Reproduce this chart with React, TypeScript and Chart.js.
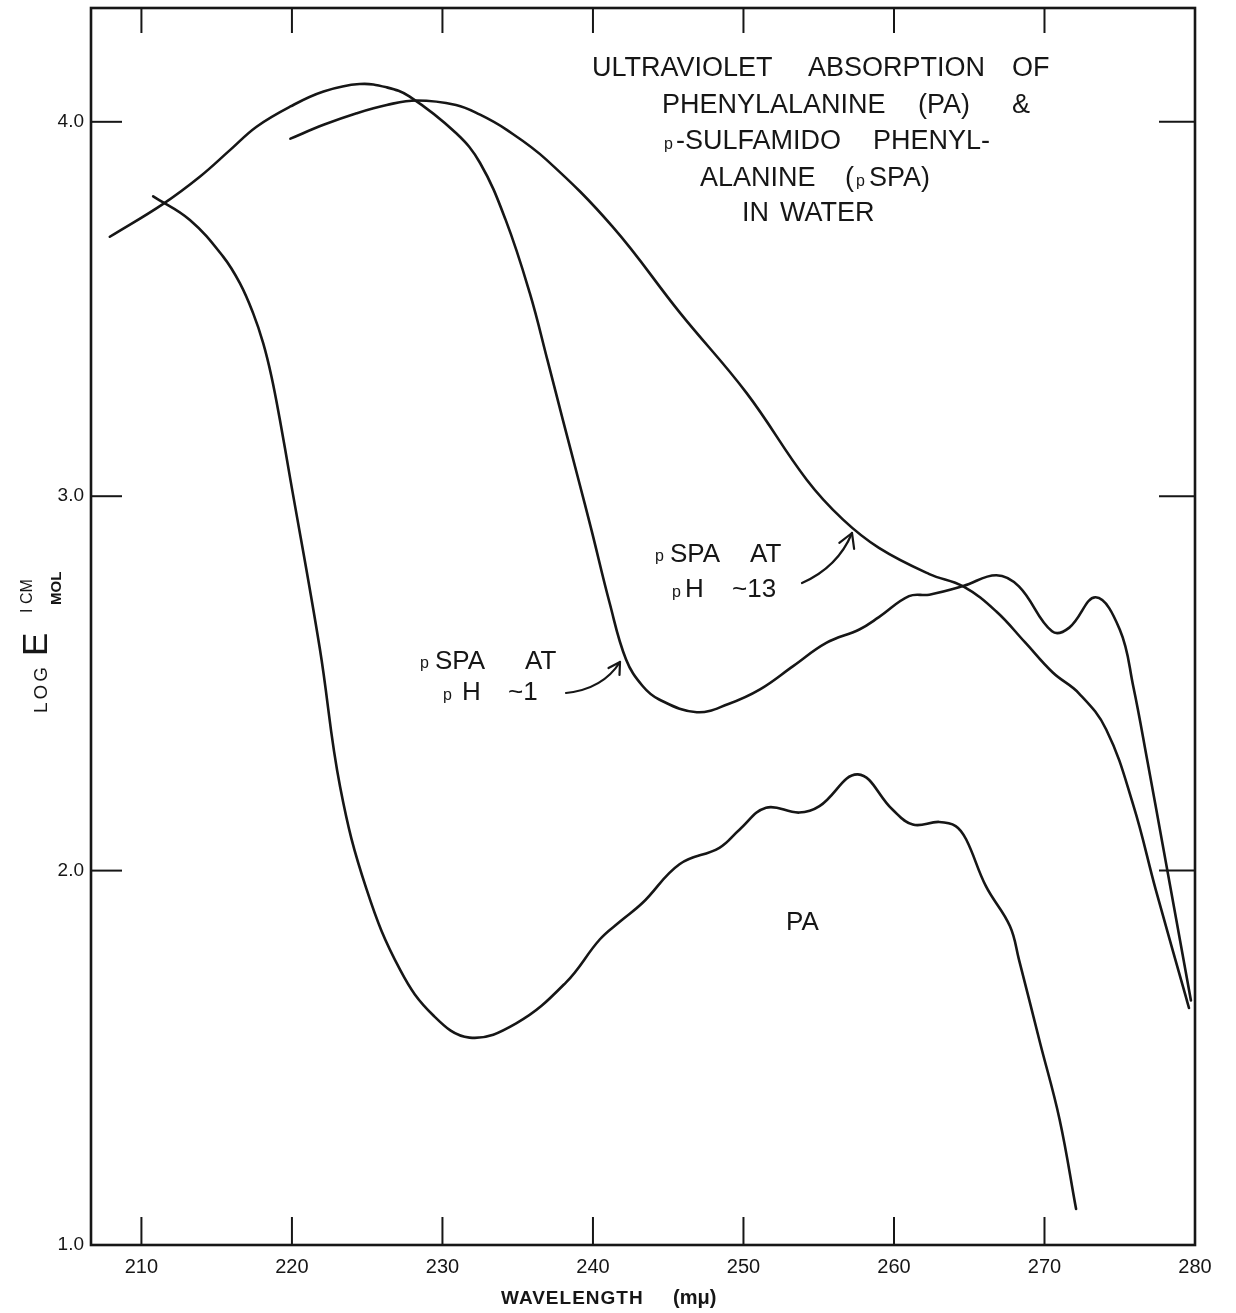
import React, { useEffect, useRef } from 'react';
import { Chart, registerables } from 'chart.js';

Chart.register(...registerables);

// ---- axis ticks ----
const xTickValues = [210, 220, 230, 240, 250, 260, 270, 280];
const yTickValues = [1.0, 2.0, 3.0, 4.0];

// ---- pSPA at pH ~1 ----
const pspaPh1Wavelength = [
  207.9, 211.45, 213.9, 215.9, 217.65, 219.9, 222.1, 224.5, 226.3, 227.8, 230.9, 232.5,
  234.2, 235.8, 237.0, 238.0, 239.0, 239.9, 241.1, 242.2, 243.3, 244.4, 246.9, 249.0,
  251.1, 253.3, 255.5, 257.7, 259.0, 261.0, 262.35, 264.6, 266.8, 268.3, 270.5, 271.65,
  273.4, 275.0, 275.9, 276.85, 277.85, 279.73,
];
const pspaPh1LogE = [
  3.693, 3.781, 3.854, 3.925, 3.987, 4.041, 4.081, 4.101, 4.092, 4.068, 3.970, 3.890,
  3.738, 3.543, 3.36, 3.204, 3.05, 2.91, 2.716, 2.564, 2.493, 2.457, 2.423, 2.445,
  2.484, 2.546, 2.608, 2.644, 2.677, 2.733, 2.737, 2.760, 2.789, 2.759, 2.639, 2.649,
  2.730, 2.644, 2.492, 2.29, 2.07, 1.653,
];

// ---- pSPA at pH ~13 ----
const pspaPh13Wavelength = [
  219.9, 222.1, 224.3, 226.3, 228.3, 230.9, 232.5, 234.25, 236.9, 241.3, 245.8, 250.2,
  254.2, 256.6, 259.0, 262.35, 264.6, 266.8, 268.7, 270.55, 272.3, 274.1, 275.9,
  277.4, 279.4, 279.6,
];
const pspaPh13LogE = [
  3.955, 3.992, 4.023, 4.045, 4.057, 4.045, 4.019, 3.979, 3.899, 3.720, 3.489, 3.276,
  3.044, 2.938, 2.862, 2.792, 2.759, 2.692, 2.61, 2.529, 2.473, 2.377, 2.175,
  1.948, 1.662, 1.633,
];

// ---- phenylalanine (PA) ----
const paWavelength = [
  210.78, 213.22, 215.43, 216.54, 217.42, 218.09, 218.64, 219.2, 219.86, 221.85, 223.2,
  224.95, 227.2, 229.4, 231.8, 234.9, 238.2, 240.45, 241.8, 243.3, 245.75, 248.4, 249.75,
  251.5, 253.7, 255.05, 257.6, 259.9, 261.25, 263.0, 264.1, 264.8, 266.1, 267.7, 268.3,
  269.7, 271.0, 272.1,
];
const paLogE = [
  3.801, 3.738, 3.640, 3.569, 3.489, 3.409, 3.320, 3.204, 3.053, 2.594, 2.224,
  1.951, 1.734, 1.613, 1.554, 1.592, 1.701, 1.816, 1.864, 1.914, 2.017, 2.061, 2.110,
  2.168, 2.155, 2.172, 2.257, 2.163, 2.123, 2.130, 2.119, 2.083, 1.959, 1.852, 1.763,
  1.541, 1.336, 1.096,
];

const INK = '#161616';
const FONT = '"Liberation Sans", Arial, sans-serif';

function toPoints(xs: number[], ys: number[]) {
  return xs.map((x, i) => ({ x, y: ys[i] }));
}

function drawArrow(ctx: CanvasRenderingContext2D, sx: number, sy: number, cx: number, cy: number, ex: number, ey: number, L: number) {
  ctx.beginPath();
  ctx.moveTo(sx, sy);
  ctx.quadraticCurveTo(cx, cy, ex, ey);
  ctx.stroke();
  const dx = ex - cx;
  const dy = ey - cy;
  const len = Math.hypot(dx, dy);
  const back = [-dx / len, -dy / len];
  const ang = Math.PI / 6;
  const rot = (v: number[], a: number) => [
    v[0] * Math.cos(a) - v[1] * Math.sin(a),
    v[0] * Math.sin(a) + v[1] * Math.cos(a),
  ];
  const a1 = rot(back, ang);
  const a2 = rot(back, -ang);
  ctx.beginPath();
  ctx.moveTo(ex + a1[0] * L, ey + a1[1] * L);
  ctx.lineTo(ex, ey);
  ctx.lineTo(ex + a2[0] * L, ey + a2[1] * L);
  ctx.stroke();
}

const decorPlugin = {
  id: 'decor',
  afterDraw(chart: any) {
    const { ctx, chartArea: a, scales } = chart;
    const xs = scales.x;
    const ys = scales.y;
    ctx.save();
    ctx.strokeStyle = INK;
    ctx.fillStyle = INK;

    // frame
    ctx.lineWidth = 2.6;
    ctx.strokeRect(a.left, a.top, a.right - a.left, a.bottom - a.top);

    // inward ticks
    ctx.lineWidth = 2;
    const seg = (x1: number, y1: number, x2: number, y2: number) => {
      ctx.beginPath();
      ctx.moveTo(x1, y1);
      ctx.lineTo(x2, y2);
      ctx.stroke();
    };
    xTickValues.filter((v) => v < 280).forEach((v) => {
      const px = xs.getPixelForValue(v);
      seg(px, a.bottom, px, a.bottom - 28);
      seg(px, a.top, px, a.top + 25);
    });
    yTickValues.filter((v) => v > 1).forEach((v) => {
      const py = ys.getPixelForValue(v);
      seg(a.left, py, a.left + 31, py);
      seg(a.right - 36, py, a.right, py);
    });

    ctx.textAlign = 'left';
    ctx.textBaseline = 'alphabetic';
    const t = (s: string, x: number, y: number, size: number, weight = 'normal') => {
      ctx.font = `${weight} ${size}px ${FONT}`;
      ctx.fillText(s, x, y);
    };

    // title block
    t('ULTRAVIOLET', 592, 76, 27);
    t('ABSORPTION', 808, 76, 27);
    t('OF', 1012, 76, 27);
    t('PHENYLALANINE', 662, 113, 27);
    t('(PA)', 918, 113, 27);
    t('&', 1012, 113, 27);
    t('p', 664, 149, 16);
    t('-SULFAMIDO', 676, 149, 27);
    t('PHENYL-', 873, 149, 27);
    t('ALANINE', 700, 186, 27);
    t('(', 845, 186, 27);
    t('p', 856, 186, 16);
    t('SPA)', 869, 186, 27);
    t('IN', 742, 221, 27);
    t('WATER', 780, 221, 27);

    // curve annotations
    t('p', 655, 561, 16);
    t('SPA', 670, 562, 26);
    t('AT', 750, 562, 26);
    t('p', 672, 597, 16);
    t('H', 685, 597, 26);
    t('~13', 732, 597, 26);

    t('p', 420, 668, 16);
    t('SPA', 435, 669, 26);
    t('AT', 525, 669, 26);
    t('p', 443, 700, 16);
    t('H', 462, 700, 26);
    t('~1', 508, 700, 26);

    t('PA', 786, 930, 26);

    // arrows
    ctx.lineWidth = 2.2;
    ctx.lineCap = 'round';
    ctx.lineJoin = 'round';
    drawArrow(ctx, 566, 693, 603, 689, 620, 662, 13);
    drawArrow(ctx, 802, 583, 838, 567, 852, 533, 16);

    // x axis title
    (ctx as any).letterSpacing = '1px';
    t('WAVELENGTH', 501, 1304, 19, 'bold');
    (ctx as any).letterSpacing = '0px';
    t('(mμ)', 673, 1304, 20, 'bold');

    // y axis title (rotated)
    ctx.save();
    ctx.translate(47, 713);
    ctx.rotate(-Math.PI / 2);
    (ctx as any).letterSpacing = '3px';
    t('LOG', 0, 0, 19);
    (ctx as any).letterSpacing = '0px';
    t('E', 57, 0, 35);
    t('I CM', 100, -15, 16);
    t('MOL', 108, 14, 15, 'bold');
    ctx.restore();

    ctx.restore();
  },
};

export default function App() {
  const canvasRef = useRef<HTMLCanvasElement | null>(null);

  useEffect(() => {
    const canvas = canvasRef.current;
    if (!canvas) return;
    const lineStyle = {
      borderColor: INK,
      borderWidth: 2.6,
      pointRadius: 0,
      pointHoverRadius: 0,
      fill: false,
      tension: 0.4,
      borderCapStyle: 'round' as const,
      borderJoinStyle: 'round' as const,
    };
    const chart = new Chart(canvas, {
      type: 'line',
      data: {
        datasets: [
          { label: 'pSPA at pH ~1', data: toPoints(pspaPh1Wavelength, pspaPh1LogE), ...lineStyle },
          { label: 'pSPA at pH ~13', data: toPoints(pspaPh13Wavelength, pspaPh13LogE), ...lineStyle },
          { label: 'PA', data: toPoints(paWavelength, paLogE), ...lineStyle },
        ],
      },
      options: {
        responsive: false,
        maintainAspectRatio: false,
        animation: false,
        events: [],
        layout: { padding: { top: 8, right: 41, left: 0, bottom: 0 } },
        plugins: {
          legend: { display: false },
          tooltip: { enabled: false },
          title: { display: false },
        },
        scales: {
          x: {
            type: 'linear',
            min: 206.65,
            max: 280,
            afterBuildTicks: (s: any) => {
              s.ticks = xTickValues.map((v) => ({ value: v }));
            },
            afterFit: (s: any) => {
              s.height = 68;
              s.paddingLeft = 0;
              s.paddingRight = 0;
            },
            ticks: {
              color: INK,
              padding: 10,
              autoSkip: false,
              maxRotation: 0,
              font: { family: FONT, size: 20 },
              callback: (v: any) => String(v),
            },
            grid: { display: false, drawTicks: false },
            border: { display: false },
          },
          y: {
            type: 'linear',
            min: 1.0,
            max: 4.304,
            afterBuildTicks: (s: any) => {
              s.ticks = yTickValues.map((v) => ({ value: v }));
            },
            afterFit: (s: any) => {
              s.width = 91;
              s.paddingTop = 0;
              s.paddingBottom = 0;
            },
            ticks: {
              color: INK,
              padding: 7,
              autoSkip: false,
              font: { family: FONT, size: 19 },
              callback: (v: any) => Number(v).toFixed(1),
            },
            grid: { display: false, drawTicks: false },
            border: { display: false },
          },
        },
      },
      plugins: [decorPlugin],
    });
    return () => chart.destroy();
  }, []);

  return (
    <div style={{ position: 'absolute', left: 0, top: 0, width: 1236, height: 1313, background: '#fff' }}>
      <canvas ref={canvasRef} width={1236} height={1313} style={{ display: 'block', width: 1236, height: 1313 }} />
    </div>
  );
}
